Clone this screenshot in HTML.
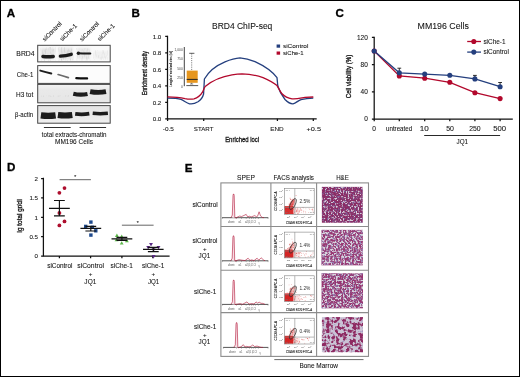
<!DOCTYPE html>
<html><head><meta charset="utf-8"><style>
html,body{margin:0;padding:0;background:#fff;}
svg{display:block;will-change:transform;}
text{font-family:"Liberation Sans",sans-serif;stroke:#151515;stroke-width:0.08px;}
.b{font-weight:bold;stroke:#000;stroke-width:0.3px;fill:#000;}
.n text, text.n{stroke:none;}
text.ax{stroke-width:0.32px;}
</style></head><body>
<svg width="520" height="377" viewBox="0 0 520 377" fill="#151515">
<defs>
<filter id="bl1" x="-20%" y="-50%" width="140%" height="200%"><feGaussianBlur stdDeviation="0.7"/></filter>
<filter id="bl2" x="-20%" y="-50%" width="140%" height="200%"><feGaussianBlur stdDeviation="1.1"/></filter>
<filter id="bl05" x="-20%" y="-20%" width="140%" height="140%"><feGaussianBlur stdDeviation="0.5"/></filter>
<filter id="haze" x="0" y="0" width="100%" height="100%" color-interpolation-filters="sRGB"><feTurbulence type="fractalNoise" baseFrequency="0.7 0.18" numOctaves="2" seed="9" result="n"/><feColorMatrix in="n" type="matrix" values="0 0 0 0 0  0 0 0 0 0  0 0 0 0 0  1 0 0 0 0" result="a"/><feComponentTransfer in="a" result="m"><feFuncA type="linear" slope="2.2" intercept="-1.05"/></feComponentTransfer><feComposite in="SourceGraphic" in2="m" operator="in" result="c"/><feGaussianBlur in="c" stdDeviation="0.5"/></filter>
<filter id="blh" x="0" y="0" width="100%" height="100%"><feGaussianBlur stdDeviation="0.55"/></filter>
<filter id="he1l" x="0" y="0" width="100%" height="100%" color-interpolation-filters="sRGB"><feTurbulence type="fractalNoise" baseFrequency="0.6" numOctaves="2" seed="3" result="n"/><feColorMatrix in="n" type="matrix" values="0 0 0 0 0  0 0 0 0 0  0 0 0 0 0  1 0 0 0 0" result="a"/><feComponentTransfer in="a" result="m"><feFuncA type="linear" slope="6" intercept="-3.174"/></feComponentTransfer><feComposite in="SourceGraphic" in2="m" operator="in"/></filter>
<filter id="he1p" x="0" y="0" width="100%" height="100%" color-interpolation-filters="sRGB"><feTurbulence type="fractalNoise" baseFrequency="0.55" numOctaves="2" seed="43" result="n"/><feColorMatrix in="n" type="matrix" values="0 0 0 0 0  0 0 0 0 0  0 0 0 0 0  1 0 0 0 0" result="a"/><feComponentTransfer in="a" result="m"><feFuncA type="linear" slope="3.5" intercept="-1.596"/></feComponentTransfer><feComposite in="SourceGraphic" in2="m" operator="in"/></filter>
<filter id="he2l" x="0" y="0" width="100%" height="100%" color-interpolation-filters="sRGB"><feTurbulence type="fractalNoise" baseFrequency="0.55" numOctaves="2" seed="5" result="n"/><feColorMatrix in="n" type="matrix" values="0 0 0 0 0  0 0 0 0 0  0 0 0 0 0  1 0 0 0 0" result="a"/><feComponentTransfer in="a" result="m"><feFuncA type="linear" slope="6" intercept="-2.844"/></feComponentTransfer><feComposite in="SourceGraphic" in2="m" operator="in"/></filter>
<filter id="he2p" x="0" y="0" width="100%" height="100%" color-interpolation-filters="sRGB"><feTurbulence type="fractalNoise" baseFrequency="0.55" numOctaves="2" seed="45" result="n"/><feColorMatrix in="n" type="matrix" values="0 0 0 0 0  0 0 0 0 0  0 0 0 0 0  1 0 0 0 0" result="a"/><feComponentTransfer in="a" result="m"><feFuncA type="linear" slope="3.5" intercept="-1.572"/></feComponentTransfer><feComposite in="SourceGraphic" in2="m" operator="in"/></filter>
<filter id="he3l" x="0" y="0" width="100%" height="100%" color-interpolation-filters="sRGB"><feTurbulence type="fractalNoise" baseFrequency="0.55" numOctaves="2" seed="11" result="n"/><feColorMatrix in="n" type="matrix" values="0 0 0 0 0  0 0 0 0 0  0 0 0 0 0  1 0 0 0 0" result="a"/><feComponentTransfer in="a" result="m"><feFuncA type="linear" slope="6" intercept="-2.908"/></feComponentTransfer><feComposite in="SourceGraphic" in2="m" operator="in"/></filter>
<filter id="he3p" x="0" y="0" width="100%" height="100%" color-interpolation-filters="sRGB"><feTurbulence type="fractalNoise" baseFrequency="0.55" numOctaves="2" seed="51" result="n"/><feColorMatrix in="n" type="matrix" values="0 0 0 0 0  0 0 0 0 0  0 0 0 0 0  1 0 0 0 0" result="a"/><feComponentTransfer in="a" result="m"><feFuncA type="linear" slope="3.5" intercept="-1.596"/></feComponentTransfer><feComposite in="SourceGraphic" in2="m" operator="in"/></filter>
<filter id="he4l" x="0" y="0" width="100%" height="100%" color-interpolation-filters="sRGB"><feTurbulence type="fractalNoise" baseFrequency="0.3" numOctaves="2" seed="17" result="n"/><feColorMatrix in="n" type="matrix" values="0 0 0 0 0  0 0 0 0 0  0 0 0 0 0  1 0 0 0 0" result="a"/><feComponentTransfer in="a" result="m"><feFuncA type="linear" slope="6" intercept="-2.656"/></feComponentTransfer><feComposite in="SourceGraphic" in2="m" operator="in"/></filter>
<filter id="he4p" x="0" y="0" width="100%" height="100%" color-interpolation-filters="sRGB"><feTurbulence type="fractalNoise" baseFrequency="0.42" numOctaves="2" seed="57" result="n"/><feColorMatrix in="n" type="matrix" values="0 0 0 0 0  0 0 0 0 0  0 0 0 0 0  1 0 0 0 0" result="a"/><feComponentTransfer in="a" result="m"><feFuncA type="linear" slope="3.5" intercept="-2.051"/></feComponentTransfer><feComposite in="SourceGraphic" in2="m" operator="in"/></filter>
</defs>
<rect x="0" y="0" width="520" height="377" fill="#fff"/>
<g id="pA">
<text x="6.80" y="16.60" font-size="11.6" class="b" >A</text>
<g>
<text x="44.7" y="41.8" font-size="6.3" transform="rotate(-45 44.7 41.8)">siControl</text>
<text x="62.2" y="41.6" font-size="6.3" transform="rotate(-45 62.2 41.6)">siChe-1</text>
<text x="82" y="41.8" font-size="6.3" transform="rotate(-45 82 41.8)">siControl</text>
<text x="99.8" y="41.6" font-size="6.3" transform="rotate(-45 99.8 41.6)">siChe-1</text>
</g>
<text x="16.39" y="55.90" font-size="6.6" textLength="18.21" lengthAdjust="spacingAndGlyphs" id="c1" >BRD4</text>
<text x="16.81" y="76.50" font-size="6.4" textLength="16.48" lengthAdjust="spacingAndGlyphs" id="c2" >Che-1</text>
<text x="16.00" y="97.20" font-size="6.5" textLength="17.24" lengthAdjust="spacingAndGlyphs" id="c3" >H3 tot</text>
<text x="14.84" y="117.00" font-size="6.5" textLength="18.40" lengthAdjust="spacingAndGlyphs" id="c4" >β-actin</text>
<defs>
<linearGradient id="gH3" x1="0" y1="0" x2="0" y2="1"><stop offset="0" stop-color="#f4f4f4"/><stop offset="0.3" stop-color="#e9e9e9"/><stop offset="1" stop-color="#e6e6e6"/></linearGradient>
<linearGradient id="gAc" x1="0" y1="0" x2="0" y2="1"><stop offset="0" stop-color="#e4e4e4"/><stop offset="0.6" stop-color="#e9e9e9"/><stop offset="1" stop-color="#f0f0f0"/></linearGradient>
</defs>
<rect x="37.7" y="45.3" width="72.5" height="16.6" fill="#fafafa"/>
<rect x="37.7" y="65.6" width="72.5" height="17.8" fill="#fcfcfc"/>
<rect x="37.7" y="84.4" width="72.5" height="18.4" fill="url(#gH3)"/>
<rect x="37.7" y="105.6" width="72.5" height="17.6" fill="url(#gAc)"/>
<g filter="url(#bl2)" fill="#999">
<rect x="41" y="48" width="14" height="11" opacity="0.22"/>
<rect x="58.5" y="47.5" width="14.5" height="12" opacity="0.2"/>
<rect x="77" y="48" width="13" height="11" opacity="0.18"/>
<rect x="94" y="51" width="14" height="8" opacity="0.1"/>
</g>
<g filter="url(#haze)" fill="#777">
<rect x="40" y="47" width="16" height="14" opacity="0.22"/>
<rect x="58" y="47" width="16" height="14" opacity="0.22"/>
<rect x="76" y="48" width="15" height="13" opacity="0.2"/>
<rect x="93" y="50" width="15" height="10" opacity="0.16"/>
<rect x="59" y="58.5" width="14" height="1.6" opacity="0.35"/>
<rect x="41" y="95.2" width="13" height="1.8" opacity="0.2"/>
<rect x="57" y="95" width="13" height="1.8" opacity="0.2"/>
</g>
<g filter="url(#bl1)">
<path d="M42.9 56.5 Q48.1 56.9 53.3 56.5" stroke="#1c1c1c" stroke-width="3.4" stroke-linecap="round" fill="none" opacity="1"/>
<path d="M60.4 56.2 Q65.9 55.7 71.3 54.3" stroke="#1c1c1c" stroke-width="3.3" stroke-linecap="round" fill="none" opacity="1"/>
<path d="M78.0 53.2 Q84.2 53.6 90.3 53.5" stroke="#1c1c1c" stroke-width="2.0" stroke-linecap="round" fill="none" opacity="1"/>
<ellipse cx="78.4" cy="53.3" rx="1.7" ry="1.7" fill="#1c1c1c"/>
<path d="M40.3 70.6 Q45.8 72.0 51.3 73.5" stroke="#1c1c1c" stroke-width="2.0" stroke-linecap="round" fill="none" opacity="1"/>
<path d="M58.1 74.5 Q63.2 76.0 68.4 77.6" stroke="#6a6a6a" stroke-width="1.7" stroke-linecap="round" fill="none" opacity="1"/>
<path d="M76.3 78.2 Q81.7 78.5 87.1 78.4" stroke="#111" stroke-width="2.2" stroke-linecap="round" fill="none" opacity="1"/>
<path d="M73.3 93.8 Q80.4 95.5 87.5 94.0" stroke="#1c1c1c" stroke-width="4.2" stroke-linecap="butt" fill="none" opacity="1"/>
<path d="M90.1 91.6 Q98.0 93.2 106.0 91.7" stroke="#1c1c1c" stroke-width="4.8" stroke-linecap="butt" fill="none" opacity="1"/>
<path d="M40.9 115.3 Q48.2 116.3 55.6 115.3" stroke="#1c1c1c" stroke-width="6.3" stroke-linecap="butt" fill="none" opacity="1"/>
<path d="M57.9 115.0 Q65.1 116.0 72.3 115.0" stroke="#1c1c1c" stroke-width="6.1" stroke-linecap="butt" fill="none" opacity="1"/>
<path d="M75.2 113.9 Q82.2 114.8 89.3 113.7" stroke="#1c1c1c" stroke-width="3.8" stroke-linecap="butt" fill="none" opacity="1"/>
<path d="M92.7 113.3 Q100.3 114.1 107.9 113.3" stroke="#1c1c1c" stroke-width="3.4" stroke-linecap="butt" fill="none" opacity="1"/>
</g>
<g fill="none" stroke="#454545" stroke-width="1">
<rect x="37.7" y="45.3" width="72.5" height="16.6"/>
<rect x="37.7" y="65.6" width="72.5" height="17.8"/>
<rect x="37.7" y="84.4" width="72.5" height="18.4"/>
<rect x="37.7" y="105.6" width="72.5" height="17.6"/>
</g>
<g stroke="#333" stroke-width="1">
<line x1="43.9" y1="127.5" x2="70.7" y2="127.5"/>
<line x1="79.6" y1="127.5" x2="106.1" y2="127.5"/>
</g>
<text x="41.81" y="136.50" font-size="6.7" textLength="64.78" lengthAdjust="spacingAndGlyphs" id="c5" >total extracts-chromatin</text>
<text x="55.00" y="144.20" font-size="6.7" textLength="38.03" lengthAdjust="spacingAndGlyphs" id="c6" >MM196 Cells</text>
</g>
<g id="pB">
<text x="131.40" y="16.80" font-size="11.6" class="b" >B</text>
<text x="212.00" y="28.50" font-size="8.3" textLength="60.33" lengthAdjust="spacingAndGlyphs" id="c7" >BRD4 ChIP-seq</text>
<g stroke="#111" stroke-width="1.25" fill="none">
<path d="M167.5 35.8 V118.8 H316.7"/>
<path d="M165.2 118.8 H167.5 M165.2 102.3 H167.5 M165.2 85.8 H167.5 M165.2 69.4 H167.5 M165.2 52.9 H167.5 M165.2 36.4 H167.5"/>
<path d="M167.6 118.8 V121.0 M203.7 118.8 V121.0 M277.4 118.8 V121.0 M313.3 118.8 V121.0"/>
</g>
<text x="161.30" y="38.60" font-size="6.2" text-anchor="end" >1.0</text>
<text x="161.30" y="55.08" font-size="6.2" text-anchor="end" >0.8</text>
<text x="161.30" y="71.56" font-size="6.2" text-anchor="end" >0.6</text>
<text x="161.30" y="88.04" font-size="6.2" text-anchor="end" >0.4</text>
<text x="161.30" y="104.52" font-size="6.2" text-anchor="end" >0.2</text>
<text x="161.30" y="121.00" font-size="6.2" text-anchor="end" >0.0</text>
<text x="162.80" y="130.80" font-size="6.2" textLength="11.10" lengthAdjust="spacingAndGlyphs" id="c8" >-0.5</text>
<text x="193.80" y="130.80" font-size="6.2" textLength="19.61" lengthAdjust="spacingAndGlyphs" id="c9" >START</text>
<text x="270.18" y="130.80" font-size="6.2" textLength="13.58" lengthAdjust="spacingAndGlyphs" id="c10" >END</text>
<text x="306.47" y="130.80" font-size="6.2" textLength="14.55" lengthAdjust="spacingAndGlyphs" id="c11" >+0.5</text>
<text x="225.18" y="142.30" font-size="7.7" textLength="33.91" lengthAdjust="spacingAndGlyphs" id="c12" class="ax" >Enriched loci</text>
<g transform="translate(144.30 73.20) rotate(-90)"><text x="-22.10" y="2.44" font-size="7.4" textLength="44.20" lengthAdjust="spacingAndGlyphs" class="ax">Enrichment density</text></g>
<rect x="276.6" y="44.5" width="3.5" height="3.2" fill="#243f7e"/>
<rect x="276.6" y="51.5" width="3.5" height="3.2" fill="#b2082c"/>
<text x="282.96" y="48.10" font-size="6.0" textLength="25.44" lengthAdjust="spacingAndGlyphs" id="c13" >siControl</text>
<text x="283.00" y="55.10" font-size="6.0" textLength="20.69" lengthAdjust="spacingAndGlyphs" id="c14" >siChe-1</text>
<path d="M184.3 47 V86.2" stroke="#111" stroke-width="0.8"/>
<g class="n" fill="#444">
<text x="182.80" y="50.70" font-size="3.3" text-anchor="end" >1,000</text>
<text x="182.80" y="60.20" font-size="3.3" text-anchor="end" >750</text>
<text x="182.80" y="69.60" font-size="3.3" text-anchor="end" >500</text>
<text x="182.80" y="79.10" font-size="3.3" text-anchor="end" >250</text>
<text x="182.80" y="88.10" font-size="3.3" text-anchor="end" >0</text>
</g>
<g transform="translate(171.20 68.70) rotate(-90)"><text x="-18.00" y="1.25" font-size="3.8" textLength="36.00" lengthAdjust="spacingAndGlyphs" fill="#222">Length of enriched sites (kb)</text></g>
<rect x="186.7" y="70.6" width="11" height="12.2" fill="#e6961e"/>
<path d="M186.7 79.4 H197.7" stroke="#222" stroke-width="1"/>
<path d="M191.7 53.5 V70.6" stroke="#333" stroke-width="0.7" stroke-dasharray="1 1.2"/>
<path d="M189.2 53.3 H194.4" stroke="#333" stroke-width="0.8"/>
<path d="M190 84 H193.2 M191.6 82.8 V84" stroke="#555" stroke-width="0.7"/>
<path d="M186.3 85.6 H198.2" stroke="#444" stroke-width="0.9"/>
<path fill="none" stroke="#243f7e" stroke-width="1.3" stroke-linejoin="round" d="M167.5 98.1 C173 98.1 178 98.4 181 99.4 C184 100.6 186.5 103 189.5 103.8 C192 104.3 195 103.6 198 101.8 C200.5 100.2 202.5 98 203.6 94 L204.4 79 C208 72.5 215 66 225 61.8 C231 59.4 236 58.2 240 57.9 C244 58.2 249 59.2 255 61.6 C265 66.2 272 71 277 77.6 L277.8 86 C279 90 281.5 95 285 99.5 C288 102.6 290.5 103.9 293 103.8 C296 103.2 298 100.6 301 99.6 C305 98.6 309 98.2 313.3 98.1"/>
<path fill="none" stroke="#b2082c" stroke-width="1.3" stroke-linejoin="round" d="M167.5 96.8 C175 96.9 180 97.4 185 98.6 C188 99.2 191 99.4 194 98.8 C198 97.8 200.5 95.5 202.5 92.2 C203.5 90 204 88 205.5 86.2 C212 80.8 222 76.4 232 74.8 C236 74.1 239 73.8 242 73.8 C249 74 256 75.2 263 77.6 C269 80.2 274 83 277 85.6 C278.5 88 279.5 90.5 282 93.8 C285 97 288 98.3 292 98.8 C297 99.2 301 98 305 97.4 C308 97.1 311 97 313.3 97"/>
</g>
<g id="pC">
<text x="335.60" y="16.80" font-size="11.6" class="b" >C</text>
<text x="417.58" y="28.50" font-size="8.5" textLength="51.33" lengthAdjust="spacingAndGlyphs" id="c15" >MM196 Cells</text>
<g stroke="#111" stroke-width="1.25" fill="none">
<path d="M374.2 36.8 V119.0 H512.8"/>
<path d="M371.9 119.0 H374.2 M371.9 91.8 H374.2 M371.9 64.6 H374.2 M371.9 37.4 H374.2"/>
<path d="M374.2 119.0 V121.2 M399.3 119.0 V121.2 M424.7 119.0 V121.2 M449.8 119.0 V121.2 M474.9 119.0 V121.2 M500.1 119.0 V121.2"/>
</g>
<text x="367.80" y="39.70" font-size="6.5" text-anchor="end" >120</text>
<text x="367.80" y="66.90" font-size="6.5" text-anchor="end" >80</text>
<text x="367.80" y="94.10" font-size="6.5" text-anchor="end" >40</text>
<text x="367.80" y="121.30" font-size="6.5" text-anchor="end" >0</text>
<text x="374.20" y="130.80" font-size="6.6" text-anchor="middle" >0</text>
<text x="386.00" y="130.80" font-size="6.6" textLength="26.18" lengthAdjust="spacingAndGlyphs" id="c16" >untreated</text>
<text x="419.77" y="130.80" font-size="6.6" textLength="9.06" lengthAdjust="spacingAndGlyphs" id="c17" >10</text>
<text x="446.21" y="130.80" font-size="6.6" textLength="7.76" lengthAdjust="spacingAndGlyphs" id="c18" >50</text>
<text x="469.20" y="130.80" font-size="6.6" textLength="11.52" lengthAdjust="spacingAndGlyphs" id="c19" >250</text>
<text x="493.26" y="130.80" font-size="6.6" textLength="12.89" lengthAdjust="spacingAndGlyphs" id="c20" >500</text>
<path d="M424.2 135.5 H500.1" stroke="#111" stroke-width="0.9"/>
<text x="462.30" y="144.40" font-size="6.3" text-anchor="middle" >JQ1</text>
<g transform="translate(348.70 76.50) rotate(-90)"><text x="-21.75" y="2.51" font-size="7.6" textLength="43.50" lengthAdjust="spacingAndGlyphs" class="ax">Cell viability (%)</text></g>
<g stroke="#1a1a1a" stroke-width="0.9"><path d="M399.3 68.2 V72.3 M397.4 68.2 H401.2"/><path d="M474.9 75.4 V78.5 M473.0 75.4 H476.8"/><path d="M500.1 82.5 V86.3 M498.2 82.5 H502.0"/></g>
<polyline points="374.2,51.0 399.3,75.9 424.7,78.2 449.8,82.3 474.9,92.7 500.1,98.6" fill="none" stroke="#b2082c" stroke-width="1.3"/>
<polyline points="374.2,51.0 399.3,72.8 424.7,74.1 449.8,75.3 474.9,78.9 500.1,86.7" fill="none" stroke="#243f7e" stroke-width="1.3"/>
<circle cx="374.2" cy="51.0" r="2.55" fill="#b2082c"/>
<circle cx="399.3" cy="75.9" r="2.55" fill="#b2082c"/>
<circle cx="424.7" cy="78.2" r="2.55" fill="#b2082c"/>
<circle cx="449.8" cy="82.3" r="2.55" fill="#b2082c"/>
<circle cx="474.9" cy="92.7" r="2.55" fill="#b2082c"/>
<circle cx="500.1" cy="98.6" r="2.55" fill="#b2082c"/>
<circle cx="374.2" cy="51.0" r="2.55" fill="#243f7e"/>
<circle cx="399.3" cy="72.8" r="2.55" fill="#243f7e"/>
<circle cx="424.7" cy="74.1" r="2.55" fill="#243f7e"/>
<circle cx="449.8" cy="75.3" r="2.55" fill="#243f7e"/>
<circle cx="474.9" cy="78.9" r="2.55" fill="#243f7e"/>
<circle cx="500.1" cy="86.7" r="2.55" fill="#243f7e"/>
<path d="M467.2 41.5 H481" stroke="#b2082c" stroke-width="1.3"/><circle cx="473.8" cy="41.5" r="2.55" fill="#b2082c"/>
<path d="M467.2 52.1 H481" stroke="#243f7e" stroke-width="1.3"/><circle cx="473.8" cy="52.1" r="2.55" fill="#243f7e"/>
<text x="483.41" y="43.80" font-size="6.5" textLength="22.19" lengthAdjust="spacingAndGlyphs" id="c21" >siChe-1</text>
<text x="483.41" y="54.40" font-size="6.5" textLength="25.45" lengthAdjust="spacingAndGlyphs" id="c22" >siControl</text>
</g>
<g id="pD">
<text x="7.00" y="171.10" font-size="11.6" class="b" >D</text>
<g stroke="#111" stroke-width="1.25" fill="none">
<path d="M43.4 177.8 V256.1 H169.6"/>
<path d="M41.1 256.1 H43.4 M41.1 236.7 H43.4 M41.1 217.3 H43.4 M41.1 197.9 H43.4 M41.1 178.5 H43.4"/>
<path d="M59.4 256.1 V258.3 M90.6 256.1 V258.3 M121.9 256.1 V258.3 M152.8 256.1 V258.3"/>
</g>
<text x="38.00" y="180.70" font-size="6.2" text-anchor="end" >2</text>
<text x="38.00" y="200.10" font-size="6.2" text-anchor="end" >1.5</text>
<text x="38.00" y="219.50" font-size="6.2" text-anchor="end" >1</text>
<text x="38.00" y="238.90" font-size="6.2" text-anchor="end" >0.5</text>
<text x="38.00" y="258.30" font-size="6.2" text-anchor="end" >0</text>
<g transform="translate(20.00 216.10) rotate(-90)"><text x="-16.65" y="2.38" font-size="7.2" textLength="33.30" lengthAdjust="spacingAndGlyphs" class="ax">Ig total gr/dl</text></g>
<text x="47.20" y="268.40" font-size="6.4" textLength="25.22" lengthAdjust="spacingAndGlyphs" id="c23" >siControl</text>
<text x="77.35" y="268.40" font-size="6.4" textLength="26.69" lengthAdjust="spacingAndGlyphs" id="c24" >siControl</text>
<text x="90.60" y="276.00" font-size="6.2" text-anchor="middle" >+</text>
<text x="84.38" y="283.60" font-size="6.4" textLength="11.97" lengthAdjust="spacingAndGlyphs" id="c25" >JQ1</text>
<text x="110.59" y="268.40" font-size="6.4" textLength="22.24" lengthAdjust="spacingAndGlyphs" id="c26" >siChe-1</text>
<text x="142.00" y="268.40" font-size="6.4" textLength="22.24" lengthAdjust="spacingAndGlyphs" id="c27" >siChe-1</text>
<text x="153.20" y="276.00" font-size="6.2" text-anchor="middle" >+</text>
<text x="148.00" y="283.60" font-size="6.4" textLength="11.31" lengthAdjust="spacingAndGlyphs" id="c28" >JQ1</text>
<g stroke="#555" stroke-width="0.9"><path d="M59.6 179.7 H90.9"/><path d="M121.9 225.2 H153.6"/></g>
<text x="75.30" y="178.60" font-size="5" text-anchor="middle" >*</text>
<text x="137.80" y="224.60" font-size="5" text-anchor="middle" >*</text>
<circle cx="64.5" cy="188.1" r="1.9" fill="#ae0f2e"/>
<circle cx="59.4" cy="192.8" r="1.9" fill="#ae0f2e"/>
<circle cx="59.4" cy="213" r="1.9" fill="#ae0f2e"/>
<circle cx="64.5" cy="221.4" r="1.9" fill="#ae0f2e"/>
<circle cx="59.4" cy="225.4" r="1.9" fill="#ae0f2e"/>
<rect x="89.20" y="220.40" width="3.4" height="3.4" fill="#1e4a8e"/>
<rect x="84.00" y="224.70" width="3.4" height="3.4" fill="#1e4a8e"/>
<rect x="90.60" y="225.60" width="3.4" height="3.4" fill="#1e4a8e"/>
<rect x="94.10" y="229.10" width="3.4" height="3.4" fill="#1e4a8e"/>
<rect x="89.20" y="233.40" width="3.4" height="3.4" fill="#1e4a8e"/>
<path d="M116.90 233.56 L118.85 236.96 L114.95 236.96Z" fill="#5cb84a"/>
<path d="M121.70 234.56 L123.65 237.96 L119.75 237.96Z" fill="#5cb84a"/>
<path d="M116.50 237.96 L118.45 241.36 L114.55 241.36Z" fill="#5cb84a"/>
<path d="M121.70 241.16 L123.65 244.56 L119.75 244.56Z" fill="#5cb84a"/>
<path d="M126.90 238.96 L128.85 242.36 L124.95 242.36Z" fill="#5cb84a"/>
<path d="M151.00 246.44 L152.95 243.04 L149.05 243.04Z" fill="#5b2a86"/>
<path d="M148.20 249.44 L150.15 246.04 L146.25 246.04Z" fill="#5b2a86"/>
<path d="M158.50 249.44 L160.45 246.04 L156.55 246.04Z" fill="#5b2a86"/>
<path d="M153.60 251.64 L155.55 248.24 L151.65 248.24Z" fill="#5b2a86"/>
<path d="M153.60 258.44 L155.55 255.04 L151.65 255.04Z" fill="#5b2a86"/>
<g stroke="#111" stroke-width="1.15" fill="none">
<path d="M49.0 208.3 H69.8 M54.0 200.5 H64.8 M54.0 215.9 H64.8 M59.4 200.5 V215.9" />
<path d="M80.4 228.3 H101.2 M85.4 226.3 H96.2 M85.4 231.0 H96.2 M90.8 226.3 V231.0" />
<path d="M111.5 238.8 H132.3 M116.5 237.4 H127.3 M116.5 240.4 H127.3 M121.9 237.4 V240.4" />
<path d="M143.0 249.4 H163.6 M147.9 247.3 H158.7 M147.9 251.6 H158.7 M153.3 247.3 V251.6" />
</g>
</g>
<g id="pE">
<text x="184.80" y="171.50" font-size="11.6" class="b" >E</text>
<text x="236.99" y="179.50" font-size="6.6" textLength="17.90" lengthAdjust="spacingAndGlyphs" id="c29" >SPEP</text>
<text x="273.61" y="179.50" font-size="6.6" textLength="40.30" lengthAdjust="spacingAndGlyphs" id="c30" >FACS analysis</text>
<text x="336.19" y="179.50" font-size="6.6" textLength="12.62" lengthAdjust="spacingAndGlyphs" id="c31" >H&amp;E</text>
<text x="192.40" y="207.00" font-size="6.4" textLength="25.32" lengthAdjust="spacingAndGlyphs" id="c32" >siControl</text>
<text x="192.40" y="243.00" font-size="6.4" textLength="25.02" lengthAdjust="spacingAndGlyphs" id="c33" >siControl</text>
<text x="204.90" y="250.70" font-size="6.2" text-anchor="middle" >+</text>
<text x="198.61" y="258.30" font-size="6.4" textLength="11.63" lengthAdjust="spacingAndGlyphs" id="c34" >JQ1</text>
<text x="194.00" y="293.60" font-size="6.4" textLength="22.24" lengthAdjust="spacingAndGlyphs" id="c35" >siChe-1</text>
<text x="194.00" y="329.20" font-size="6.4" textLength="22.24" lengthAdjust="spacingAndGlyphs" id="c36" >siChe-1</text>
<text x="204.90" y="336.90" font-size="6.2" text-anchor="middle" >+</text>
<text x="198.61" y="344.40" font-size="6.4" textLength="11.63" lengthAdjust="spacingAndGlyphs" id="c37" >JQ1</text>
<path d="M222.0 217.7 H268.3" stroke="#555" stroke-width="1.0"/>
<path d="M222.3 217.7 V219.0 M236.5 217.7 V219.0 M241.5 217.7 V219.0 M246.2 217.7 V219.0 M249.5 217.7 V219.0 M251.5 217.7 V219.0 M253.3 217.7 V219.0 M255.4 217.7 V219.0 M258.4 217.7 V219.0 M268.0 217.7 V219.0" stroke="#777" stroke-width="0.5"/>
<path d="M232.3 217.7 L233.0 195.5 L233.4 194.0 L233.8 194.0 L234.2 195.5 L234.8 217.7 Z" fill="#f8dce4"/>
<path d="M230.4 217.7 L231.4 216.9 L232.3 215.1 L233.0 195.5 L233.4 194.0 L233.8 194.0 L234.2 195.5 L234.8 217.1 L235.6 218.2 L236.1 217.7 L239.6 216.1 L241.7 216.5 L246.2 214.4 L247.7 216.9 L249.2 216.2 L251.2 216.9 L254.8 215.6 L256.3 216.7 L257.6 216.2 L259.1 211.8 L260.5 215.9 L262.3 217.4 L264.0 217.7 " fill="none" stroke="#b01436" stroke-width="0.6" stroke-linejoin="miter"/>
<g class="n" font-size="2.6" fill="#555"><text x="227.9" y="223.2" textLength="6.7" lengthAdjust="spacingAndGlyphs">albumin</text><text x="238.4" y="223.2">α1</text><text x="245.0" y="223.2">α2</text><text x="248.2" y="223.2" textLength="7.6" lengthAdjust="spacingAndGlyphs">β1 β2 C3</text><text x="258.5" y="223.9">γ</text></g>
<path d="M222.0 260.8 H268.3" stroke="#555" stroke-width="1.0"/>
<path d="M222.3 260.8 V262.1 M236.5 260.8 V262.1 M241.5 260.8 V262.1 M246.2 260.8 V262.1 M249.5 260.8 V262.1 M251.5 260.8 V262.1 M253.3 260.8 V262.1 M255.4 260.8 V262.1 M258.4 260.8 V262.1 M268.0 260.8 V262.1" stroke="#777" stroke-width="0.5"/>
<path d="M232.2 260.8 L232.9 237.3 L233.3 235.8 L233.7 235.8 L234.1 237.3 L234.7 260.8 Z" fill="#f8dce4"/>
<path d="M230.3 260.8 L231.3 260.0 L232.2 258.2 L232.9 237.3 L233.3 235.8 L233.7 235.8 L234.1 237.3 L234.7 260.2 L235.5 261.3 L235.5 260.8 L239.0 259.7 L242.0 260.2 L245.0 260.6 L248.1 258.2 L250.0 260.4 L251.8 259.9 L254.0 260.6 L257.1 258.2 L258.8 260.2 L261.1 257.8 L263.5 259.9 L265.0 260.8 " fill="none" stroke="#b01436" stroke-width="0.6" stroke-linejoin="miter"/>
<g class="n" font-size="2.6" fill="#555"><text x="227.9" y="265.8" textLength="6.7" lengthAdjust="spacingAndGlyphs">albumin</text><text x="238.4" y="265.8">α1</text><text x="245.0" y="265.8">α2</text><text x="248.2" y="265.8" textLength="7.6" lengthAdjust="spacingAndGlyphs">β1 β2 C3</text><text x="258.5" y="266.5">γ</text></g>
<path d="M222.0 304.4 H268.3" stroke="#555" stroke-width="1.0"/>
<path d="M222.3 304.4 V305.7 M236.5 304.4 V305.7 M241.5 304.4 V305.7 M246.2 304.4 V305.7 M249.5 304.4 V305.7 M251.5 304.4 V305.7 M253.3 304.4 V305.7 M255.4 304.4 V305.7 M258.4 304.4 V305.7 M268.0 304.4 V305.7" stroke="#777" stroke-width="0.5"/>
<path d="M232.4 304.4 L233.1 281.5 L233.5 280.0 L233.9 280.0 L234.3 281.5 L234.9 304.4 Z" fill="#f8dce4"/>
<path d="M230.5 304.4 L231.5 303.6 L232.4 301.8 L233.1 281.5 L233.5 280.0 L233.9 280.0 L234.3 281.5 L234.9 303.8 L235.7 304.9 L235.7 304.4 L238.0 304.0 L240.1 303.6 L242.5 304.3 L247.0 301.9 L249.0 304.1 L252.0 303.6 L254.0 304.1 L256.0 301.9 L257.6 303.1 L259.2 302.2 L261.0 303.3 L262.9 303.4 L265.0 304.4 " fill="none" stroke="#b01436" stroke-width="0.6" stroke-linejoin="miter"/>
<g class="n" font-size="2.6" fill="#555"><text x="227.9" y="310.1" textLength="6.7" lengthAdjust="spacingAndGlyphs">albumin</text><text x="238.4" y="310.1">α1</text><text x="245.0" y="310.1">α2</text><text x="248.2" y="310.1" textLength="7.6" lengthAdjust="spacingAndGlyphs">β1 β2 C3</text><text x="258.5" y="310.8">γ</text></g>
<path d="M223.1 347.4 H268.3" stroke="#555" stroke-width="1.0"/>
<path d="M223.4 347.4 V348.7 M236.5 347.4 V348.7 M241.5 347.4 V348.7 M246.2 347.4 V348.7 M249.5 347.4 V348.7 M251.5 347.4 V348.7 M253.3 347.4 V348.7 M255.4 347.4 V348.7 M258.4 347.4 V348.7 M268.0 347.4 V348.7" stroke="#777" stroke-width="0.5"/>
<path d="M235.3 347.4 L236.0 324.1 L236.4 322.6 L236.8 322.6 L237.2 324.1 L237.8 347.4 Z" fill="#f8dce4"/>
<path d="M233.4 347.4 L234.4 346.6 L235.3 344.8 L236.0 324.1 L236.4 322.6 L236.8 322.6 L237.2 324.1 L237.8 346.8 L238.6 347.9 L239.2 347.4 L241.0 346.8 L243.3 344.7 L245.0 347.0 L246.5 346.4 L249.0 346.9 L251.0 346.3 L252.8 344.9 L254.5 346.6 L257.1 346.1 L259.2 346.8 L261.0 347.3 L263.0 347.4 " fill="none" stroke="#b01436" stroke-width="0.6" stroke-linejoin="miter"/>
<g class="n" font-size="2.6" fill="#555"><text x="229.0" y="353.1" textLength="6.7" lengthAdjust="spacingAndGlyphs">albumin</text><text x="239.5" y="353.1">α1</text><text x="246.1" y="353.1">α2</text><text x="249.3" y="353.1" textLength="7.6" lengthAdjust="spacingAndGlyphs">β1 β2 C3</text><text x="259.6" y="353.8">γ</text></g>
<g><rect x="285.8" y="208.4" width="14.0" height="4.9" fill="#e66" opacity="0.18" filter="url(#bl05)"/>
<rect x="284.6" y="206.1" width="8.8" height="7.9" fill="#d41e1e" opacity="0.9" filter="url(#bl05)"/>
<ellipse cx="291.9" cy="203.7" rx="2.0" ry="5.2" transform="rotate(28 291.9 203.7)" fill="#dd3030" opacity="0.7" filter="url(#bl05)"/>
<rect x="290.2" y="206.9" width="0.7" height="0.7" fill="#d42a2a" opacity="0.59"/>
<rect x="292.5" y="206.8" width="0.7" height="0.7" fill="#d42a2a" opacity="0.58"/>
<rect x="291.3" y="203.9" width="0.7" height="0.7" fill="#d42a2a" opacity="0.35"/>
<rect x="286.0" y="208.1" width="0.7" height="0.7" fill="#d42a2a" opacity="0.65"/>
<rect x="301.4" y="209.9" width="0.7" height="0.7" fill="#d42a2a" opacity="0.84"/>
<rect x="291.1" y="205.0" width="0.7" height="0.7" fill="#d42a2a" opacity="0.38"/>
<rect x="290.7" y="201.4" width="0.7" height="0.7" fill="#d42a2a" opacity="0.40"/>
<rect x="296.3" y="211.1" width="0.7" height="0.7" fill="#d42a2a" opacity="0.50"/>
<rect x="286.6" y="207.9" width="0.7" height="0.7" fill="#d42a2a" opacity="0.67"/>
<rect x="285.2" y="208.7" width="0.7" height="0.7" fill="#d42a2a" opacity="0.62"/>
<rect x="288.1" y="211.6" width="0.7" height="0.7" fill="#d42a2a" opacity="0.43"/>
<rect x="296.1" y="210.3" width="0.7" height="0.7" fill="#d42a2a" opacity="0.78"/>
<rect x="288.9" y="207.3" width="0.7" height="0.7" fill="#d42a2a" opacity="0.53"/>
<rect x="303.3" y="207.5" width="0.7" height="0.7" fill="#d42a2a" opacity="0.57"/>
<rect x="290.3" y="199.0" width="0.7" height="0.7" fill="#d42a2a" opacity="0.62"/>
<rect x="294.1" y="211.8" width="0.7" height="0.7" fill="#d42a2a" opacity="0.63"/>
<rect x="297.2" y="213.4" width="0.7" height="0.7" fill="#d42a2a" opacity="0.56"/>
<rect x="287.9" y="206.8" width="0.7" height="0.7" fill="#d42a2a" opacity="0.69"/>
<rect x="297.3" y="208.5" width="0.7" height="0.7" fill="#d42a2a" opacity="0.51"/>
<rect x="284.9" y="206.6" width="0.7" height="0.7" fill="#d42a2a" opacity="0.55"/>
<rect x="292.5" y="204.1" width="0.7" height="0.7" fill="#d42a2a" opacity="0.72"/>
<rect x="292.0" y="206.4" width="0.7" height="0.7" fill="#d42a2a" opacity="0.78"/>
<rect x="289.6" y="204.6" width="0.7" height="0.7" fill="#d42a2a" opacity="0.79"/>
<rect x="309.4" y="209.2" width="0.7" height="0.7" fill="#d42a2a" opacity="0.53"/>
<rect x="297.4" y="207.5" width="0.7" height="0.7" fill="#d42a2a" opacity="0.40"/>
<rect x="288.7" y="203.8" width="0.7" height="0.7" fill="#d42a2a" opacity="0.62"/>
<rect x="294.3" y="206.5" width="0.7" height="0.7" fill="#d42a2a" opacity="0.50"/>
<rect x="284.7" y="213.5" width="0.7" height="0.7" fill="#d42a2a" opacity="0.68"/>
<rect x="292.1" y="206.8" width="0.7" height="0.7" fill="#d42a2a" opacity="0.79"/>
<rect x="291.4" y="212.9" width="0.7" height="0.7" fill="#d42a2a" opacity="0.74"/>
<rect x="286.9" y="211.1" width="0.7" height="0.7" fill="#d42a2a" opacity="0.33"/>
<rect x="292.6" y="203.9" width="0.7" height="0.7" fill="#d42a2a" opacity="0.49"/>
<rect x="293.2" y="205.1" width="0.7" height="0.7" fill="#d42a2a" opacity="0.36"/>
<rect x="284.7" y="206.6" width="0.7" height="0.7" fill="#d42a2a" opacity="0.78"/>
<rect x="287.5" y="209.0" width="0.7" height="0.7" fill="#d42a2a" opacity="0.50"/>
<rect x="293.2" y="208.9" width="0.7" height="0.7" fill="#d42a2a" opacity="0.56"/>
<rect x="302.3" y="207.0" width="0.7" height="0.7" fill="#d42a2a" opacity="0.36"/>
<rect x="285.5" y="207.6" width="0.7" height="0.7" fill="#d42a2a" opacity="0.31"/>
<rect x="300.0" y="208.3" width="0.7" height="0.7" fill="#d42a2a" opacity="0.60"/>
<rect x="295.7" y="195.2" width="0.7" height="0.7" fill="#d42a2a" opacity="0.77"/>
<rect x="287.7" y="208.3" width="0.7" height="0.7" fill="#d42a2a" opacity="0.50"/>
<rect x="292.3" y="199.7" width="0.7" height="0.7" fill="#d42a2a" opacity="0.73"/>
<rect x="286.5" y="213.7" width="0.7" height="0.7" fill="#d42a2a" opacity="0.77"/>
<rect x="308.1" y="212.1" width="0.7" height="0.7" fill="#d42a2a" opacity="0.42"/>
<rect x="296.9" y="209.0" width="0.7" height="0.7" fill="#d42a2a" opacity="0.32"/>
<rect x="291.7" y="205.7" width="0.7" height="0.7" fill="#d42a2a" opacity="0.68"/>
<rect x="297.8" y="213.4" width="0.7" height="0.7" fill="#d42a2a" opacity="0.84"/>
<rect x="295.5" y="208.8" width="0.7" height="0.7" fill="#d42a2a" opacity="0.42"/>
<rect x="292.8" y="207.4" width="0.7" height="0.7" fill="#d42a2a" opacity="0.80"/>
<rect x="298.7" y="211.6" width="0.7" height="0.7" fill="#d42a2a" opacity="0.74"/>
<rect x="289.7" y="197.8" width="0.7" height="0.7" fill="#d42a2a" opacity="0.73"/>
<rect x="288.6" y="212.2" width="0.7" height="0.7" fill="#d42a2a" opacity="0.48"/>
<rect x="312.4" y="209.9" width="0.7" height="0.7" fill="#d42a2a" opacity="0.52"/>
<rect x="305.5" y="208.5" width="0.7" height="0.7" fill="#d42a2a" opacity="0.37"/>
<rect x="292.2" y="207.9" width="0.7" height="0.7" fill="#d42a2a" opacity="0.38"/>
<rect x="312.7" y="211.6" width="0.7" height="0.7" fill="#d42a2a" opacity="0.49"/>
<rect x="291.4" y="207.4" width="0.7" height="0.7" fill="#d42a2a" opacity="0.31"/>
<rect x="303.4" y="210.8" width="0.7" height="0.7" fill="#d42a2a" opacity="0.81"/>
<rect x="293.4" y="208.0" width="0.7" height="0.7" fill="#d42a2a" opacity="0.44"/>
<rect x="289.3" y="203.6" width="0.7" height="0.7" fill="#d42a2a" opacity="0.44"/>
<rect x="293.6" y="207.4" width="0.7" height="0.7" fill="#d42a2a" opacity="0.80"/>
<rect x="293.2" y="213.1" width="0.7" height="0.7" fill="#d42a2a" opacity="0.53"/>
<rect x="299.3" y="210.8" width="0.7" height="0.7" fill="#d42a2a" opacity="0.59"/>
<rect x="292.7" y="201.6" width="0.7" height="0.7" fill="#d42a2a" opacity="0.30"/>
<rect x="285.9" y="207.7" width="0.7" height="0.7" fill="#d42a2a" opacity="0.56"/>
<rect x="290.1" y="210.2" width="0.7" height="0.7" fill="#d42a2a" opacity="0.61"/>
<rect x="286.5" y="207.2" width="0.7" height="0.7" fill="#d42a2a" opacity="0.61"/>
<rect x="291.4" y="208.5" width="0.7" height="0.7" fill="#d42a2a" opacity="0.58"/>
<rect x="285.3" y="209.7" width="0.7" height="0.7" fill="#d42a2a" opacity="0.64"/>
<rect x="299.7" y="210.2" width="0.7" height="0.7" fill="#d42a2a" opacity="0.68"/>
<rect x="292.1" y="213.4" width="0.7" height="0.7" fill="#d42a2a" opacity="0.68"/>
<rect x="311.6" y="209.1" width="0.7" height="0.7" fill="#d42a2a" opacity="0.61"/>
<rect x="308.7" y="208.3" width="0.7" height="0.7" fill="#d42a2a" opacity="0.37"/>
<rect x="286.0" y="206.9" width="0.7" height="0.7" fill="#d42a2a" opacity="0.43"/>
<rect x="290.3" y="198.8" width="0.7" height="0.7" fill="#d42a2a" opacity="0.79"/>
<rect x="291.4" y="199.1" width="0.7" height="0.7" fill="#d42a2a" opacity="0.38"/>
<rect x="312.3" y="208.8" width="0.7" height="0.7" fill="#d42a2a" opacity="0.82"/>
<rect x="305.4" y="212.6" width="0.7" height="0.7" fill="#d42a2a" opacity="0.39"/>
<rect x="286.0" y="210.2" width="0.7" height="0.7" fill="#d42a2a" opacity="0.49"/>
<rect x="290.7" y="207.8" width="0.7" height="0.7" fill="#d42a2a" opacity="0.31"/>
<rect x="285.5" y="208.9" width="0.7" height="0.7" fill="#d42a2a" opacity="0.64"/>
<rect x="284.8" y="206.9" width="0.7" height="0.7" fill="#d42a2a" opacity="0.84"/>
<rect x="287.5" y="208.4" width="0.7" height="0.7" fill="#d42a2a" opacity="0.32"/>
<rect x="284.9" y="208.4" width="0.7" height="0.7" fill="#d42a2a" opacity="0.37"/>
<rect x="295.3" y="208.3" width="0.7" height="0.7" fill="#d42a2a" opacity="0.38"/>
<rect x="301.2" y="211.9" width="0.7" height="0.7" fill="#d42a2a" opacity="0.35"/>
<rect x="290.0" y="202.2" width="0.7" height="0.7" fill="#d42a2a" opacity="0.34"/>
<rect x="303.0" y="212.5" width="0.7" height="0.7" fill="#d42a2a" opacity="0.35"/>
<rect x="287.2" y="212.9" width="0.7" height="0.7" fill="#d42a2a" opacity="0.55"/>
<rect x="291.1" y="210.5" width="0.7" height="0.7" fill="#d42a2a" opacity="0.81"/>
<rect x="293.7" y="206.1" width="0.7" height="0.7" fill="#d42a2a" opacity="0.43"/>
<rect x="292.3" y="204.2" width="0.7" height="0.7" fill="#d42a2a" opacity="0.41"/>
<rect x="288.3" y="208.5" width="0.7" height="0.7" fill="#d42a2a" opacity="0.58"/>
<rect x="295.2" y="203.1" width="0.7" height="0.7" fill="#d42a2a" opacity="0.44"/>
<rect x="292.3" y="203.0" width="0.7" height="0.7" fill="#d42a2a" opacity="0.40"/>
<rect x="293.1" y="213.3" width="0.7" height="0.7" fill="#d42a2a" opacity="0.36"/>
<rect x="297.4" y="210.6" width="0.7" height="0.7" fill="#d42a2a" opacity="0.76"/>
<rect x="295.0" y="213.7" width="0.7" height="0.7" fill="#d42a2a" opacity="0.49"/>
<rect x="305.0" y="211.5" width="0.7" height="0.7" fill="#d42a2a" opacity="0.52"/>
<rect x="284.7" y="206.8" width="0.7" height="0.7" fill="#d42a2a" opacity="0.37"/>
<rect x="291.9" y="201.1" width="0.7" height="0.7" fill="#d42a2a" opacity="0.39"/>
<rect x="294.2" y="198.3" width="0.7" height="0.7" fill="#d42a2a" opacity="0.67"/>
<rect x="292.1" y="205.9" width="0.7" height="0.7" fill="#d42a2a" opacity="0.55"/>
<rect x="290.5" y="204.2" width="0.7" height="0.7" fill="#d42a2a" opacity="0.83"/>
<rect x="300.6" y="209.0" width="0.7" height="0.7" fill="#d42a2a" opacity="0.83"/>
<rect x="284.7" y="209.2" width="0.7" height="0.7" fill="#d42a2a" opacity="0.56"/>
<rect x="284.7" y="207.9" width="0.7" height="0.7" fill="#d42a2a" opacity="0.58"/>
<rect x="291.9" y="204.7" width="0.7" height="0.7" fill="#d42a2a" opacity="0.52"/>
<rect x="293.7" y="203.8" width="0.7" height="0.7" fill="#d42a2a" opacity="0.43"/>
<rect x="295.8" y="211.3" width="0.7" height="0.7" fill="#d42a2a" opacity="0.69"/>
<rect x="284.3" y="188.5" width="29.9" height="25.8" fill="none" stroke="#777" stroke-width="0.55"/>
<path d="M294.8 188.5 V214.3 M284.3 207.4 H314.2" stroke="#888" stroke-width="0.6"/>
<ellipse cx="292.9" cy="204.1" rx="2.3" ry="6.0" transform="rotate(28 292.9 204.1)" fill="none" stroke="#333" stroke-width="0.7"/>
<text x="304.9" y="203.1" font-size="4.8" text-anchor="middle" class="n" fill="#333">2.5%</text>
<g class="n" font-size="1.9" fill="#777"><text x="285.5" y="191.3">Q1-1</text><text x="309.7" y="191.3">Q1-2</text><text x="309.7" y="213.1">Q1-3</text><text x="285.5" y="213.1">Q1-4</text></g>
<g class="n" font-size="2.4" fill="#444">
<text x="279.3" y="191.5">10<tspan font-size="1.5" dy="-0.8">5</tspan></text>
<text x="279.3" y="198.2">10<tspan font-size="1.5" dy="-0.8">4</tspan></text>
<text x="279.3" y="204.8">10<tspan font-size="1.5" dy="-0.8">3</tspan></text>
<text x="279.3" y="211.0">10<tspan font-size="1.5" dy="-0.8">2</tspan></text>
<text x="286.7" y="217.8">10<tspan font-size="1.5" dy="-0.8">2</tspan></text>
<text x="294.0" y="217.8">10<tspan font-size="1.5" dy="-0.8">3</tspan></text>
<text x="301.2" y="217.8">10<tspan font-size="1.5" dy="-0.8">4</tspan></text>
<text x="307.9" y="217.8">10<tspan font-size="1.5" dy="-0.8">5</tspan></text>
</g>
<text x="0" y="0" font-size="3.5" text-anchor="middle" transform="translate(277.3 201.1) rotate(-90)" style="stroke-width:0.1px" fill="#222" textLength="19.5" lengthAdjust="spacingAndGlyphs">CD138 APC-A</text>
<text x="286" y="223.7" font-size="3.7" style="stroke-width:0.12px" fill="#222" textLength="26" lengthAdjust="spacingAndGlyphs">CD45R B220 FITC-A</text></g>
<g><rect x="285.8" y="252.0" width="14.0" height="4.9" fill="#e66" opacity="0.18" filter="url(#bl05)"/>
<rect x="284.6" y="249.7" width="8.8" height="7.9" fill="#d41e1e" opacity="0.95" filter="url(#bl05)"/>
<ellipse cx="291.9" cy="247.3" rx="2.0" ry="5.2" transform="rotate(28 291.9 247.3)" fill="#dd3030" opacity="0.32" filter="url(#bl05)"/>
<rect x="296.2" y="253.1" width="0.7" height="0.7" fill="#d42a2a" opacity="0.84"/>
<rect x="291.4" y="246.3" width="0.7" height="0.7" fill="#d42a2a" opacity="0.32"/>
<rect x="310.2" y="255.0" width="0.7" height="0.7" fill="#d42a2a" opacity="0.70"/>
<rect x="289.2" y="254.4" width="0.7" height="0.7" fill="#d42a2a" opacity="0.58"/>
<rect x="307.8" y="256.3" width="0.7" height="0.7" fill="#d42a2a" opacity="0.62"/>
<rect x="304.4" y="255.4" width="0.7" height="0.7" fill="#d42a2a" opacity="0.43"/>
<rect x="289.2" y="248.9" width="0.7" height="0.7" fill="#d42a2a" opacity="0.36"/>
<rect x="300.9" y="255.0" width="0.7" height="0.7" fill="#d42a2a" opacity="0.64"/>
<rect x="289.2" y="253.6" width="0.7" height="0.7" fill="#d42a2a" opacity="0.30"/>
<rect x="284.7" y="254.0" width="0.7" height="0.7" fill="#d42a2a" opacity="0.66"/>
<rect x="289.6" y="246.8" width="0.7" height="0.7" fill="#d42a2a" opacity="0.34"/>
<rect x="290.5" y="246.7" width="0.7" height="0.7" fill="#d42a2a" opacity="0.71"/>
<rect x="299.1" y="253.4" width="0.7" height="0.7" fill="#d42a2a" opacity="0.56"/>
<rect x="289.0" y="255.7" width="0.7" height="0.7" fill="#d42a2a" opacity="0.64"/>
<rect x="287.8" y="251.9" width="0.7" height="0.7" fill="#d42a2a" opacity="0.71"/>
<rect x="286.1" y="254.2" width="0.7" height="0.7" fill="#d42a2a" opacity="0.31"/>
<rect x="291.6" y="251.4" width="0.7" height="0.7" fill="#d42a2a" opacity="0.68"/>
<rect x="286.4" y="253.4" width="0.7" height="0.7" fill="#d42a2a" opacity="0.56"/>
<rect x="294.3" y="248.6" width="0.7" height="0.7" fill="#d42a2a" opacity="0.84"/>
<rect x="285.8" y="253.9" width="0.7" height="0.7" fill="#d42a2a" opacity="0.75"/>
<rect x="297.8" y="252.7" width="0.7" height="0.7" fill="#d42a2a" opacity="0.42"/>
<rect x="291.2" y="254.7" width="0.7" height="0.7" fill="#d42a2a" opacity="0.38"/>
<rect x="287.2" y="257.1" width="0.7" height="0.7" fill="#d42a2a" opacity="0.37"/>
<rect x="299.5" y="256.7" width="0.7" height="0.7" fill="#d42a2a" opacity="0.69"/>
<rect x="293.8" y="244.9" width="0.7" height="0.7" fill="#d42a2a" opacity="0.31"/>
<rect x="289.8" y="247.2" width="0.7" height="0.7" fill="#d42a2a" opacity="0.47"/>
<rect x="291.0" y="249.2" width="0.7" height="0.7" fill="#d42a2a" opacity="0.76"/>
<rect x="292.0" y="241.3" width="0.7" height="0.7" fill="#d42a2a" opacity="0.37"/>
<rect x="305.2" y="256.8" width="0.7" height="0.7" fill="#d42a2a" opacity="0.46"/>
<rect x="304.4" y="254.4" width="0.7" height="0.7" fill="#d42a2a" opacity="0.50"/>
<rect x="300.3" y="252.0" width="0.7" height="0.7" fill="#d42a2a" opacity="0.33"/>
<rect x="292.8" y="244.9" width="0.7" height="0.7" fill="#d42a2a" opacity="0.81"/>
<rect x="291.8" y="250.6" width="0.7" height="0.7" fill="#d42a2a" opacity="0.40"/>
<rect x="298.3" y="256.0" width="0.7" height="0.7" fill="#d42a2a" opacity="0.65"/>
<rect x="311.5" y="254.5" width="0.7" height="0.7" fill="#d42a2a" opacity="0.70"/>
<rect x="290.9" y="246.6" width="0.7" height="0.7" fill="#d42a2a" opacity="0.71"/>
<rect x="291.9" y="252.1" width="0.7" height="0.7" fill="#d42a2a" opacity="0.33"/>
<rect x="288.9" y="254.0" width="0.7" height="0.7" fill="#d42a2a" opacity="0.49"/>
<rect x="291.6" y="238.8" width="0.7" height="0.7" fill="#d42a2a" opacity="0.44"/>
<rect x="287.1" y="252.9" width="0.7" height="0.7" fill="#d42a2a" opacity="0.39"/>
<rect x="294.4" y="248.7" width="0.7" height="0.7" fill="#d42a2a" opacity="0.57"/>
<rect x="296.2" y="255.4" width="0.7" height="0.7" fill="#d42a2a" opacity="0.55"/>
<rect x="288.3" y="247.5" width="0.7" height="0.7" fill="#d42a2a" opacity="0.49"/>
<rect x="292.8" y="247.2" width="0.7" height="0.7" fill="#d42a2a" opacity="0.61"/>
<rect x="306.2" y="253.6" width="0.7" height="0.7" fill="#d42a2a" opacity="0.53"/>
<rect x="289.7" y="252.8" width="0.7" height="0.7" fill="#d42a2a" opacity="0.49"/>
<rect x="291.1" y="254.7" width="0.7" height="0.7" fill="#d42a2a" opacity="0.37"/>
<rect x="293.9" y="251.6" width="0.7" height="0.7" fill="#d42a2a" opacity="0.45"/>
<rect x="289.1" y="244.4" width="0.7" height="0.7" fill="#d42a2a" opacity="0.82"/>
<rect x="309.7" y="251.1" width="0.7" height="0.7" fill="#d42a2a" opacity="0.32"/>
<rect x="288.8" y="256.6" width="0.7" height="0.7" fill="#d42a2a" opacity="0.56"/>
<rect x="291.3" y="256.9" width="0.7" height="0.7" fill="#d42a2a" opacity="0.75"/>
<rect x="312.4" y="252.6" width="0.7" height="0.7" fill="#d42a2a" opacity="0.36"/>
<rect x="292.0" y="242.5" width="0.7" height="0.7" fill="#d42a2a" opacity="0.82"/>
<rect x="285.8" y="254.8" width="0.7" height="0.7" fill="#d42a2a" opacity="0.72"/>
<rect x="286.2" y="255.8" width="0.7" height="0.7" fill="#d42a2a" opacity="0.43"/>
<rect x="303.3" y="252.9" width="0.7" height="0.7" fill="#d42a2a" opacity="0.37"/>
<rect x="291.8" y="244.0" width="0.7" height="0.7" fill="#d42a2a" opacity="0.36"/>
<rect x="289.7" y="243.1" width="0.7" height="0.7" fill="#d42a2a" opacity="0.51"/>
<rect x="291.6" y="246.6" width="0.7" height="0.7" fill="#d42a2a" opacity="0.47"/>
<rect x="284.9" y="257.1" width="0.7" height="0.7" fill="#d42a2a" opacity="0.65"/>
<rect x="298.6" y="252.5" width="0.7" height="0.7" fill="#d42a2a" opacity="0.44"/>
<rect x="305.0" y="253.0" width="0.7" height="0.7" fill="#d42a2a" opacity="0.31"/>
<rect x="287.6" y="251.9" width="0.7" height="0.7" fill="#d42a2a" opacity="0.67"/>
<rect x="291.6" y="251.2" width="0.7" height="0.7" fill="#d42a2a" opacity="0.49"/>
<rect x="290.8" y="255.1" width="0.7" height="0.7" fill="#d42a2a" opacity="0.41"/>
<rect x="284.9" y="251.5" width="0.7" height="0.7" fill="#d42a2a" opacity="0.83"/>
<rect x="292.6" y="256.1" width="0.7" height="0.7" fill="#d42a2a" opacity="0.43"/>
<rect x="292.1" y="244.5" width="0.7" height="0.7" fill="#d42a2a" opacity="0.82"/>
<rect x="286.2" y="253.1" width="0.7" height="0.7" fill="#d42a2a" opacity="0.67"/>
<rect x="289.4" y="253.5" width="0.7" height="0.7" fill="#d42a2a" opacity="0.42"/>
<rect x="289.3" y="251.3" width="0.7" height="0.7" fill="#d42a2a" opacity="0.33"/>
<rect x="288.9" y="256.6" width="0.7" height="0.7" fill="#d42a2a" opacity="0.79"/>
<rect x="300.5" y="252.4" width="0.7" height="0.7" fill="#d42a2a" opacity="0.40"/>
<rect x="306.1" y="251.2" width="0.7" height="0.7" fill="#d42a2a" opacity="0.67"/>
<rect x="284.7" y="252.8" width="0.7" height="0.7" fill="#d42a2a" opacity="0.48"/>
<rect x="293.6" y="247.0" width="0.7" height="0.7" fill="#d42a2a" opacity="0.49"/>
<rect x="288.8" y="257.2" width="0.7" height="0.7" fill="#d42a2a" opacity="0.41"/>
<rect x="290.0" y="253.2" width="0.7" height="0.7" fill="#d42a2a" opacity="0.33"/>
<rect x="296.0" y="252.8" width="0.7" height="0.7" fill="#d42a2a" opacity="0.81"/>
<rect x="289.2" y="251.8" width="0.7" height="0.7" fill="#d42a2a" opacity="0.32"/>
<rect x="288.8" y="250.3" width="0.7" height="0.7" fill="#d42a2a" opacity="0.32"/>
<rect x="288.8" y="249.0" width="0.7" height="0.7" fill="#d42a2a" opacity="0.71"/>
<rect x="294.8" y="252.7" width="0.7" height="0.7" fill="#d42a2a" opacity="0.83"/>
<rect x="286.9" y="251.9" width="0.7" height="0.7" fill="#d42a2a" opacity="0.69"/>
<rect x="284.7" y="255.6" width="0.7" height="0.7" fill="#d42a2a" opacity="0.80"/>
<rect x="284.9" y="257.0" width="0.7" height="0.7" fill="#d42a2a" opacity="0.31"/>
<rect x="287.0" y="248.2" width="0.7" height="0.7" fill="#d42a2a" opacity="0.82"/>
<rect x="284.7" y="253.7" width="0.7" height="0.7" fill="#d42a2a" opacity="0.81"/>
<rect x="294.1" y="248.6" width="0.7" height="0.7" fill="#d42a2a" opacity="0.75"/>
<rect x="295.1" y="254.5" width="0.7" height="0.7" fill="#d42a2a" opacity="0.48"/>
<rect x="292.2" y="250.6" width="0.7" height="0.7" fill="#d42a2a" opacity="0.41"/>
<rect x="293.6" y="251.8" width="0.7" height="0.7" fill="#d42a2a" opacity="0.34"/>
<rect x="290.3" y="246.1" width="0.7" height="0.7" fill="#d42a2a" opacity="0.84"/>
<rect x="312.9" y="252.7" width="0.7" height="0.7" fill="#d42a2a" opacity="0.35"/>
<rect x="288.9" y="247.0" width="0.7" height="0.7" fill="#d42a2a" opacity="0.55"/>
<rect x="289.6" y="249.1" width="0.7" height="0.7" fill="#d42a2a" opacity="0.67"/>
<rect x="290.2" y="250.9" width="0.7" height="0.7" fill="#d42a2a" opacity="0.76"/>
<rect x="289.6" y="244.4" width="0.7" height="0.7" fill="#d42a2a" opacity="0.71"/>
<rect x="291.2" y="247.0" width="0.7" height="0.7" fill="#d42a2a" opacity="0.38"/>
<rect x="301.4" y="253.1" width="0.7" height="0.7" fill="#d42a2a" opacity="0.52"/>
<rect x="299.5" y="252.5" width="0.7" height="0.7" fill="#d42a2a" opacity="0.74"/>
<rect x="289.6" y="257.3" width="0.7" height="0.7" fill="#d42a2a" opacity="0.36"/>
<rect x="289.9" y="256.8" width="0.7" height="0.7" fill="#d42a2a" opacity="0.32"/>
<rect x="288.5" y="248.4" width="0.7" height="0.7" fill="#d42a2a" opacity="0.84"/>
<rect x="287.4" y="256.9" width="0.7" height="0.7" fill="#d42a2a" opacity="0.50"/>
<rect x="297.8" y="252.7" width="0.7" height="0.7" fill="#d42a2a" opacity="0.73"/>
<rect x="288.3" y="254.8" width="0.7" height="0.7" fill="#d42a2a" opacity="0.64"/>
<rect x="291.3" y="248.2" width="0.7" height="0.7" fill="#d42a2a" opacity="0.41"/>
<rect x="289.6" y="244.5" width="0.7" height="0.7" fill="#d42a2a" opacity="0.41"/>
<rect x="284.3" y="232.1" width="29.9" height="25.8" fill="none" stroke="#777" stroke-width="0.55"/>
<path d="M294.8 232.1 V257.9 M284.3 251.0 H314.2" stroke="#888" stroke-width="0.6"/>
<ellipse cx="292.9" cy="247.7" rx="2.3" ry="6.0" transform="rotate(28 292.9 247.7)" fill="none" stroke="#333" stroke-width="0.7"/>
<text x="304.9" y="246.7" font-size="4.8" text-anchor="middle" class="n" fill="#333">1.4%</text>
<g class="n" font-size="1.9" fill="#777"><text x="285.5" y="234.9">Q1-1</text><text x="309.7" y="234.9">Q1-2</text><text x="309.7" y="256.7">Q1-3</text><text x="285.5" y="256.7">Q1-4</text></g>
<g class="n" font-size="2.4" fill="#444">
<text x="279.3" y="235.1">10<tspan font-size="1.5" dy="-0.8">5</tspan></text>
<text x="279.3" y="241.8">10<tspan font-size="1.5" dy="-0.8">4</tspan></text>
<text x="279.3" y="248.4">10<tspan font-size="1.5" dy="-0.8">3</tspan></text>
<text x="279.3" y="254.6">10<tspan font-size="1.5" dy="-0.8">2</tspan></text>
<text x="286.7" y="261.4">10<tspan font-size="1.5" dy="-0.8">2</tspan></text>
<text x="294.0" y="261.4">10<tspan font-size="1.5" dy="-0.8">3</tspan></text>
<text x="301.2" y="261.4">10<tspan font-size="1.5" dy="-0.8">4</tspan></text>
<text x="307.9" y="261.4">10<tspan font-size="1.5" dy="-0.8">5</tspan></text>
</g>
<text x="0" y="0" font-size="3.5" text-anchor="middle" transform="translate(277.3 244.7) rotate(-90)" style="stroke-width:0.1px" fill="#222" textLength="19.5" lengthAdjust="spacingAndGlyphs">CD138 APC-A</text>
<text x="286" y="267.3" font-size="3.7" style="stroke-width:0.12px" fill="#222" textLength="26" lengthAdjust="spacingAndGlyphs">CD45R B220 FITC-A</text></g>
<g><rect x="285.8" y="295.7" width="14.0" height="4.9" fill="#e66" opacity="0.18" filter="url(#bl05)"/>
<rect x="284.6" y="293.4" width="8.8" height="7.9" fill="#d41e1e" opacity="0.95" filter="url(#bl05)"/>
<ellipse cx="291.9" cy="291.0" rx="2.0" ry="5.2" transform="rotate(28 291.9 291.0)" fill="#dd3030" opacity="0.32" filter="url(#bl05)"/>
<rect x="290.6" y="294.7" width="0.7" height="0.7" fill="#d42a2a" opacity="0.40"/>
<rect x="287.9" y="297.8" width="0.7" height="0.7" fill="#d42a2a" opacity="0.33"/>
<rect x="295.4" y="287.7" width="0.7" height="0.7" fill="#d42a2a" opacity="0.65"/>
<rect x="293.5" y="293.1" width="0.7" height="0.7" fill="#d42a2a" opacity="0.53"/>
<rect x="294.6" y="288.1" width="0.7" height="0.7" fill="#d42a2a" opacity="0.47"/>
<rect x="300.5" y="296.3" width="0.7" height="0.7" fill="#d42a2a" opacity="0.53"/>
<rect x="313.1" y="297.0" width="0.7" height="0.7" fill="#d42a2a" opacity="0.41"/>
<rect x="284.7" y="300.4" width="0.7" height="0.7" fill="#d42a2a" opacity="0.53"/>
<rect x="296.6" y="300.4" width="0.7" height="0.7" fill="#d42a2a" opacity="0.55"/>
<rect x="292.2" y="294.5" width="0.7" height="0.7" fill="#d42a2a" opacity="0.65"/>
<rect x="287.8" y="298.7" width="0.7" height="0.7" fill="#d42a2a" opacity="0.50"/>
<rect x="285.1" y="294.8" width="0.7" height="0.7" fill="#d42a2a" opacity="0.46"/>
<rect x="287.3" y="297.3" width="0.7" height="0.7" fill="#d42a2a" opacity="0.74"/>
<rect x="290.8" y="295.5" width="0.7" height="0.7" fill="#d42a2a" opacity="0.82"/>
<rect x="298.8" y="295.0" width="0.7" height="0.7" fill="#d42a2a" opacity="0.81"/>
<rect x="285.8" y="300.4" width="0.7" height="0.7" fill="#d42a2a" opacity="0.64"/>
<rect x="289.8" y="299.7" width="0.7" height="0.7" fill="#d42a2a" opacity="0.42"/>
<rect x="291.8" y="295.1" width="0.7" height="0.7" fill="#d42a2a" opacity="0.42"/>
<rect x="295.1" y="297.5" width="0.7" height="0.7" fill="#d42a2a" opacity="0.51"/>
<rect x="292.1" y="295.5" width="0.7" height="0.7" fill="#d42a2a" opacity="0.79"/>
<rect x="288.9" y="288.8" width="0.7" height="0.7" fill="#d42a2a" opacity="0.32"/>
<rect x="288.6" y="298.5" width="0.7" height="0.7" fill="#d42a2a" opacity="0.60"/>
<rect x="286.8" y="298.0" width="0.7" height="0.7" fill="#d42a2a" opacity="0.53"/>
<rect x="291.2" y="297.0" width="0.7" height="0.7" fill="#d42a2a" opacity="0.54"/>
<rect x="290.3" y="288.3" width="0.7" height="0.7" fill="#d42a2a" opacity="0.43"/>
<rect x="285.8" y="295.0" width="0.7" height="0.7" fill="#d42a2a" opacity="0.56"/>
<rect x="289.8" y="292.9" width="0.7" height="0.7" fill="#d42a2a" opacity="0.35"/>
<rect x="289.7" y="297.5" width="0.7" height="0.7" fill="#d42a2a" opacity="0.32"/>
<rect x="294.2" y="299.5" width="0.7" height="0.7" fill="#d42a2a" opacity="0.58"/>
<rect x="293.6" y="287.8" width="0.7" height="0.7" fill="#d42a2a" opacity="0.82"/>
<rect x="292.0" y="296.9" width="0.7" height="0.7" fill="#d42a2a" opacity="0.70"/>
<rect x="290.7" y="301.0" width="0.7" height="0.7" fill="#d42a2a" opacity="0.57"/>
<rect x="310.9" y="295.8" width="0.7" height="0.7" fill="#d42a2a" opacity="0.73"/>
<rect x="287.1" y="296.9" width="0.7" height="0.7" fill="#d42a2a" opacity="0.72"/>
<rect x="286.8" y="292.6" width="0.7" height="0.7" fill="#d42a2a" opacity="0.75"/>
<rect x="291.0" y="284.0" width="0.7" height="0.7" fill="#d42a2a" opacity="0.41"/>
<rect x="291.9" y="288.1" width="0.7" height="0.7" fill="#d42a2a" opacity="0.32"/>
<rect x="291.9" y="294.4" width="0.7" height="0.7" fill="#d42a2a" opacity="0.67"/>
<rect x="290.0" y="299.7" width="0.7" height="0.7" fill="#d42a2a" opacity="0.36"/>
<rect x="298.2" y="298.4" width="0.7" height="0.7" fill="#d42a2a" opacity="0.50"/>
<rect x="300.8" y="298.4" width="0.7" height="0.7" fill="#d42a2a" opacity="0.79"/>
<rect x="294.8" y="290.5" width="0.7" height="0.7" fill="#d42a2a" opacity="0.52"/>
<rect x="286.3" y="298.0" width="0.7" height="0.7" fill="#d42a2a" opacity="0.50"/>
<rect x="305.6" y="297.0" width="0.7" height="0.7" fill="#d42a2a" opacity="0.40"/>
<rect x="296.7" y="295.6" width="0.7" height="0.7" fill="#d42a2a" opacity="0.65"/>
<rect x="301.6" y="298.9" width="0.7" height="0.7" fill="#d42a2a" opacity="0.47"/>
<rect x="293.1" y="292.4" width="0.7" height="0.7" fill="#d42a2a" opacity="0.64"/>
<rect x="285.1" y="297.5" width="0.7" height="0.7" fill="#d42a2a" opacity="0.79"/>
<rect x="292.4" y="295.0" width="0.7" height="0.7" fill="#d42a2a" opacity="0.31"/>
<rect x="291.4" y="291.8" width="0.7" height="0.7" fill="#d42a2a" opacity="0.50"/>
<rect x="289.7" y="288.7" width="0.7" height="0.7" fill="#d42a2a" opacity="0.41"/>
<rect x="288.0" y="300.6" width="0.7" height="0.7" fill="#d42a2a" opacity="0.43"/>
<rect x="292.2" y="294.2" width="0.7" height="0.7" fill="#d42a2a" opacity="0.78"/>
<rect x="290.0" y="296.7" width="0.7" height="0.7" fill="#d42a2a" opacity="0.45"/>
<rect x="290.4" y="287.7" width="0.7" height="0.7" fill="#d42a2a" opacity="0.49"/>
<rect x="299.7" y="299.1" width="0.7" height="0.7" fill="#d42a2a" opacity="0.44"/>
<rect x="286.5" y="298.1" width="0.7" height="0.7" fill="#d42a2a" opacity="0.52"/>
<rect x="293.6" y="295.6" width="0.7" height="0.7" fill="#d42a2a" opacity="0.31"/>
<rect x="288.7" y="300.7" width="0.7" height="0.7" fill="#d42a2a" opacity="0.38"/>
<rect x="290.1" y="288.5" width="0.7" height="0.7" fill="#d42a2a" opacity="0.65"/>
<rect x="290.2" y="296.7" width="0.7" height="0.7" fill="#d42a2a" opacity="0.47"/>
<rect x="294.7" y="287.3" width="0.7" height="0.7" fill="#d42a2a" opacity="0.69"/>
<rect x="293.8" y="286.6" width="0.7" height="0.7" fill="#d42a2a" opacity="0.56"/>
<rect x="289.1" y="294.5" width="0.7" height="0.7" fill="#d42a2a" opacity="0.43"/>
<rect x="292.4" y="288.1" width="0.7" height="0.7" fill="#d42a2a" opacity="0.68"/>
<rect x="305.2" y="296.4" width="0.7" height="0.7" fill="#d42a2a" opacity="0.60"/>
<rect x="294.3" y="299.5" width="0.7" height="0.7" fill="#d42a2a" opacity="0.59"/>
<rect x="288.7" y="284.6" width="0.7" height="0.7" fill="#d42a2a" opacity="0.42"/>
<rect x="285.7" y="296.4" width="0.7" height="0.7" fill="#d42a2a" opacity="0.43"/>
<rect x="295.2" y="296.1" width="0.7" height="0.7" fill="#d42a2a" opacity="0.78"/>
<rect x="288.2" y="295.5" width="0.7" height="0.7" fill="#d42a2a" opacity="0.80"/>
<rect x="287.9" y="300.9" width="0.7" height="0.7" fill="#d42a2a" opacity="0.56"/>
<rect x="304.8" y="300.2" width="0.7" height="0.7" fill="#d42a2a" opacity="0.54"/>
<rect x="294.0" y="297.9" width="0.7" height="0.7" fill="#d42a2a" opacity="0.47"/>
<rect x="291.4" y="289.9" width="0.7" height="0.7" fill="#d42a2a" opacity="0.80"/>
<rect x="292.9" y="290.9" width="0.7" height="0.7" fill="#d42a2a" opacity="0.81"/>
<rect x="285.4" y="294.0" width="0.7" height="0.7" fill="#d42a2a" opacity="0.68"/>
<rect x="285.6" y="298.9" width="0.7" height="0.7" fill="#d42a2a" opacity="0.71"/>
<rect x="290.4" y="289.2" width="0.7" height="0.7" fill="#d42a2a" opacity="0.75"/>
<rect x="310.2" y="295.1" width="0.7" height="0.7" fill="#d42a2a" opacity="0.78"/>
<rect x="311.6" y="295.4" width="0.7" height="0.7" fill="#d42a2a" opacity="0.41"/>
<rect x="295.8" y="291.9" width="0.7" height="0.7" fill="#d42a2a" opacity="0.75"/>
<rect x="288.8" y="295.8" width="0.7" height="0.7" fill="#d42a2a" opacity="0.35"/>
<rect x="289.5" y="290.8" width="0.7" height="0.7" fill="#d42a2a" opacity="0.48"/>
<rect x="289.0" y="293.9" width="0.7" height="0.7" fill="#d42a2a" opacity="0.44"/>
<rect x="291.6" y="287.9" width="0.7" height="0.7" fill="#d42a2a" opacity="0.48"/>
<rect x="299.4" y="300.1" width="0.7" height="0.7" fill="#d42a2a" opacity="0.64"/>
<rect x="290.2" y="292.4" width="0.7" height="0.7" fill="#d42a2a" opacity="0.73"/>
<rect x="286.7" y="295.3" width="0.7" height="0.7" fill="#d42a2a" opacity="0.77"/>
<rect x="289.6" y="291.5" width="0.7" height="0.7" fill="#d42a2a" opacity="0.30"/>
<rect x="290.9" y="291.3" width="0.7" height="0.7" fill="#d42a2a" opacity="0.30"/>
<rect x="303.6" y="297.3" width="0.7" height="0.7" fill="#d42a2a" opacity="0.74"/>
<rect x="290.2" y="290.8" width="0.7" height="0.7" fill="#d42a2a" opacity="0.76"/>
<rect x="293.5" y="289.9" width="0.7" height="0.7" fill="#d42a2a" opacity="0.42"/>
<rect x="287.7" y="298.4" width="0.7" height="0.7" fill="#d42a2a" opacity="0.34"/>
<rect x="284.7" y="298.9" width="0.7" height="0.7" fill="#d42a2a" opacity="0.73"/>
<rect x="288.7" y="296.6" width="0.7" height="0.7" fill="#d42a2a" opacity="0.79"/>
<rect x="293.6" y="291.2" width="0.7" height="0.7" fill="#d42a2a" opacity="0.41"/>
<rect x="291.7" y="293.6" width="0.7" height="0.7" fill="#d42a2a" opacity="0.51"/>
<rect x="291.8" y="297.6" width="0.7" height="0.7" fill="#d42a2a" opacity="0.59"/>
<rect x="289.1" y="299.3" width="0.7" height="0.7" fill="#d42a2a" opacity="0.66"/>
<rect x="286.2" y="299.9" width="0.7" height="0.7" fill="#d42a2a" opacity="0.66"/>
<rect x="287.9" y="295.0" width="0.7" height="0.7" fill="#d42a2a" opacity="0.54"/>
<rect x="287.5" y="297.1" width="0.7" height="0.7" fill="#d42a2a" opacity="0.79"/>
<rect x="291.5" y="291.6" width="0.7" height="0.7" fill="#d42a2a" opacity="0.69"/>
<rect x="289.6" y="295.7" width="0.7" height="0.7" fill="#d42a2a" opacity="0.44"/>
<rect x="289.8" y="297.6" width="0.7" height="0.7" fill="#d42a2a" opacity="0.39"/>
<rect x="291.4" y="299.1" width="0.7" height="0.7" fill="#d42a2a" opacity="0.36"/>
<rect x="288.1" y="297.2" width="0.7" height="0.7" fill="#d42a2a" opacity="0.84"/>
<rect x="302.0" y="299.1" width="0.7" height="0.7" fill="#d42a2a" opacity="0.54"/>
<rect x="284.3" y="275.8" width="29.9" height="25.8" fill="none" stroke="#777" stroke-width="0.55"/>
<path d="M294.8 275.8 V301.6 M284.3 294.7 H314.2" stroke="#888" stroke-width="0.6"/>
<ellipse cx="292.9" cy="291.4" rx="2.3" ry="6.0" transform="rotate(28 292.9 291.4)" fill="none" stroke="#333" stroke-width="0.7"/>
<text x="304.9" y="290.4" font-size="4.8" text-anchor="middle" class="n" fill="#333">1.2%</text>
<g class="n" font-size="1.9" fill="#777"><text x="285.5" y="278.6">Q1-1</text><text x="309.7" y="278.6">Q1-2</text><text x="309.7" y="300.4">Q1-3</text><text x="285.5" y="300.4">Q1-4</text></g>
<g class="n" font-size="2.4" fill="#444">
<text x="279.3" y="278.8">10<tspan font-size="1.5" dy="-0.8">5</tspan></text>
<text x="279.3" y="285.5">10<tspan font-size="1.5" dy="-0.8">4</tspan></text>
<text x="279.3" y="292.1">10<tspan font-size="1.5" dy="-0.8">3</tspan></text>
<text x="279.3" y="298.3">10<tspan font-size="1.5" dy="-0.8">2</tspan></text>
<text x="286.7" y="305.1">10<tspan font-size="1.5" dy="-0.8">2</tspan></text>
<text x="294.0" y="305.1">10<tspan font-size="1.5" dy="-0.8">3</tspan></text>
<text x="301.2" y="305.1">10<tspan font-size="1.5" dy="-0.8">4</tspan></text>
<text x="307.9" y="305.1">10<tspan font-size="1.5" dy="-0.8">5</tspan></text>
</g>
<text x="0" y="0" font-size="3.5" text-anchor="middle" transform="translate(277.3 288.4) rotate(-90)" style="stroke-width:0.1px" fill="#222" textLength="19.5" lengthAdjust="spacingAndGlyphs">CD138 APC-A</text>
<text x="286" y="311.0" font-size="3.7" style="stroke-width:0.12px" fill="#222" textLength="26" lengthAdjust="spacingAndGlyphs">CD45R B220 FITC-A</text></g>
<g><rect x="285.8" y="338.1" width="14.0" height="4.9" fill="#e66" opacity="0.18" filter="url(#bl05)"/>
<rect x="284.6" y="335.8" width="8.8" height="7.9" fill="#d41e1e" opacity="0.95" filter="url(#bl05)"/>
<ellipse cx="291.9" cy="333.4" rx="2.0" ry="5.2" transform="rotate(28 291.9 333.4)" fill="#dd3030" opacity="0.32" filter="url(#bl05)"/>
<rect x="291.4" y="332.0" width="0.7" height="0.7" fill="#d42a2a" opacity="0.41"/>
<rect x="291.2" y="342.0" width="0.7" height="0.7" fill="#d42a2a" opacity="0.68"/>
<rect x="285.8" y="340.8" width="0.7" height="0.7" fill="#d42a2a" opacity="0.55"/>
<rect x="290.4" y="331.2" width="0.7" height="0.7" fill="#d42a2a" opacity="0.71"/>
<rect x="297.3" y="340.8" width="0.7" height="0.7" fill="#d42a2a" opacity="0.71"/>
<rect x="285.8" y="342.6" width="0.7" height="0.7" fill="#d42a2a" opacity="0.73"/>
<rect x="295.4" y="342.4" width="0.7" height="0.7" fill="#d42a2a" opacity="0.67"/>
<rect x="290.1" y="340.7" width="0.7" height="0.7" fill="#d42a2a" opacity="0.35"/>
<rect x="286.0" y="341.9" width="0.7" height="0.7" fill="#d42a2a" opacity="0.69"/>
<rect x="284.7" y="339.5" width="0.7" height="0.7" fill="#d42a2a" opacity="0.64"/>
<rect x="291.6" y="341.1" width="0.7" height="0.7" fill="#d42a2a" opacity="0.81"/>
<rect x="290.0" y="328.8" width="0.7" height="0.7" fill="#d42a2a" opacity="0.51"/>
<rect x="286.2" y="340.1" width="0.7" height="0.7" fill="#d42a2a" opacity="0.39"/>
<rect x="284.7" y="343.1" width="0.7" height="0.7" fill="#d42a2a" opacity="0.59"/>
<rect x="289.8" y="331.4" width="0.7" height="0.7" fill="#d42a2a" opacity="0.69"/>
<rect x="292.7" y="340.0" width="0.7" height="0.7" fill="#d42a2a" opacity="0.53"/>
<rect x="291.2" y="341.5" width="0.7" height="0.7" fill="#d42a2a" opacity="0.52"/>
<rect x="294.4" y="337.0" width="0.7" height="0.7" fill="#d42a2a" opacity="0.84"/>
<rect x="289.6" y="339.1" width="0.7" height="0.7" fill="#d42a2a" opacity="0.31"/>
<rect x="286.3" y="339.2" width="0.7" height="0.7" fill="#d42a2a" opacity="0.68"/>
<rect x="284.8" y="341.6" width="0.7" height="0.7" fill="#d42a2a" opacity="0.82"/>
<rect x="289.3" y="337.7" width="0.7" height="0.7" fill="#d42a2a" opacity="0.74"/>
<rect x="285.2" y="341.8" width="0.7" height="0.7" fill="#d42a2a" opacity="0.75"/>
<rect x="287.9" y="339.6" width="0.7" height="0.7" fill="#d42a2a" opacity="0.61"/>
<rect x="293.8" y="332.5" width="0.7" height="0.7" fill="#d42a2a" opacity="0.65"/>
<rect x="308.1" y="340.1" width="0.7" height="0.7" fill="#d42a2a" opacity="0.46"/>
<rect x="293.7" y="338.7" width="0.7" height="0.7" fill="#d42a2a" opacity="0.77"/>
<rect x="294.7" y="331.5" width="0.7" height="0.7" fill="#d42a2a" opacity="0.53"/>
<rect x="293.1" y="337.9" width="0.7" height="0.7" fill="#d42a2a" opacity="0.45"/>
<rect x="292.1" y="332.0" width="0.7" height="0.7" fill="#d42a2a" opacity="0.54"/>
<rect x="291.9" y="341.0" width="0.7" height="0.7" fill="#d42a2a" opacity="0.50"/>
<rect x="309.1" y="337.5" width="0.7" height="0.7" fill="#d42a2a" opacity="0.76"/>
<rect x="307.2" y="338.0" width="0.7" height="0.7" fill="#d42a2a" opacity="0.76"/>
<rect x="285.4" y="343.1" width="0.7" height="0.7" fill="#d42a2a" opacity="0.66"/>
<rect x="292.0" y="334.4" width="0.7" height="0.7" fill="#d42a2a" opacity="0.43"/>
<rect x="286.6" y="338.7" width="0.7" height="0.7" fill="#d42a2a" opacity="0.38"/>
<rect x="307.4" y="338.2" width="0.7" height="0.7" fill="#d42a2a" opacity="0.79"/>
<rect x="286.3" y="342.7" width="0.7" height="0.7" fill="#d42a2a" opacity="0.73"/>
<rect x="290.8" y="341.5" width="0.7" height="0.7" fill="#d42a2a" opacity="0.59"/>
<rect x="294.5" y="339.3" width="0.7" height="0.7" fill="#d42a2a" opacity="0.79"/>
<rect x="284.8" y="337.1" width="0.7" height="0.7" fill="#d42a2a" opacity="0.57"/>
<rect x="293.5" y="331.5" width="0.7" height="0.7" fill="#d42a2a" opacity="0.57"/>
<rect x="285.1" y="340.1" width="0.7" height="0.7" fill="#d42a2a" opacity="0.77"/>
<rect x="293.2" y="330.3" width="0.7" height="0.7" fill="#d42a2a" opacity="0.61"/>
<rect x="288.0" y="339.2" width="0.7" height="0.7" fill="#d42a2a" opacity="0.83"/>
<rect x="290.4" y="330.3" width="0.7" height="0.7" fill="#d42a2a" opacity="0.32"/>
<rect x="291.9" y="341.2" width="0.7" height="0.7" fill="#d42a2a" opacity="0.81"/>
<rect x="292.6" y="339.7" width="0.7" height="0.7" fill="#d42a2a" opacity="0.79"/>
<rect x="291.7" y="332.3" width="0.7" height="0.7" fill="#d42a2a" opacity="0.49"/>
<rect x="295.5" y="340.1" width="0.7" height="0.7" fill="#d42a2a" opacity="0.59"/>
<rect x="293.9" y="337.7" width="0.7" height="0.7" fill="#d42a2a" opacity="0.54"/>
<rect x="296.7" y="338.3" width="0.7" height="0.7" fill="#d42a2a" opacity="0.76"/>
<rect x="288.7" y="339.8" width="0.7" height="0.7" fill="#d42a2a" opacity="0.45"/>
<rect x="294.4" y="342.0" width="0.7" height="0.7" fill="#d42a2a" opacity="0.48"/>
<rect x="285.9" y="338.3" width="0.7" height="0.7" fill="#d42a2a" opacity="0.62"/>
<rect x="284.7" y="341.4" width="0.7" height="0.7" fill="#d42a2a" opacity="0.79"/>
<rect x="286.3" y="336.5" width="0.7" height="0.7" fill="#d42a2a" opacity="0.47"/>
<rect x="293.7" y="339.4" width="0.7" height="0.7" fill="#d42a2a" opacity="0.63"/>
<rect x="288.0" y="340.6" width="0.7" height="0.7" fill="#d42a2a" opacity="0.64"/>
<rect x="299.2" y="341.3" width="0.7" height="0.7" fill="#d42a2a" opacity="0.63"/>
<rect x="286.7" y="339.5" width="0.7" height="0.7" fill="#d42a2a" opacity="0.72"/>
<rect x="294.9" y="333.4" width="0.7" height="0.7" fill="#d42a2a" opacity="0.73"/>
<rect x="303.6" y="339.5" width="0.7" height="0.7" fill="#d42a2a" opacity="0.75"/>
<rect x="286.0" y="340.3" width="0.7" height="0.7" fill="#d42a2a" opacity="0.44"/>
<rect x="289.7" y="339.3" width="0.7" height="0.7" fill="#d42a2a" opacity="0.65"/>
<rect x="286.8" y="340.7" width="0.7" height="0.7" fill="#d42a2a" opacity="0.32"/>
<rect x="292.8" y="334.6" width="0.7" height="0.7" fill="#d42a2a" opacity="0.81"/>
<rect x="292.8" y="336.2" width="0.7" height="0.7" fill="#d42a2a" opacity="0.51"/>
<rect x="302.5" y="339.6" width="0.7" height="0.7" fill="#d42a2a" opacity="0.53"/>
<rect x="289.9" y="331.8" width="0.7" height="0.7" fill="#d42a2a" opacity="0.38"/>
<rect x="290.9" y="337.7" width="0.7" height="0.7" fill="#d42a2a" opacity="0.37"/>
<rect x="287.8" y="342.7" width="0.7" height="0.7" fill="#d42a2a" opacity="0.37"/>
<rect x="292.1" y="332.7" width="0.7" height="0.7" fill="#d42a2a" opacity="0.70"/>
<rect x="290.5" y="338.0" width="0.7" height="0.7" fill="#d42a2a" opacity="0.69"/>
<rect x="305.7" y="337.6" width="0.7" height="0.7" fill="#d42a2a" opacity="0.65"/>
<rect x="288.0" y="339.5" width="0.7" height="0.7" fill="#d42a2a" opacity="0.81"/>
<rect x="295.1" y="332.0" width="0.7" height="0.7" fill="#d42a2a" opacity="0.31"/>
<rect x="289.8" y="328.6" width="0.7" height="0.7" fill="#d42a2a" opacity="0.34"/>
<rect x="284.8" y="342.5" width="0.7" height="0.7" fill="#d42a2a" opacity="0.57"/>
<rect x="290.8" y="330.5" width="0.7" height="0.7" fill="#d42a2a" opacity="0.54"/>
<rect x="291.1" y="337.2" width="0.7" height="0.7" fill="#d42a2a" opacity="0.74"/>
<rect x="290.4" y="339.2" width="0.7" height="0.7" fill="#d42a2a" opacity="0.51"/>
<rect x="292.1" y="343.1" width="0.7" height="0.7" fill="#d42a2a" opacity="0.73"/>
<rect x="285.0" y="343.3" width="0.7" height="0.7" fill="#d42a2a" opacity="0.69"/>
<rect x="294.6" y="341.0" width="0.7" height="0.7" fill="#d42a2a" opacity="0.84"/>
<rect x="302.1" y="339.1" width="0.7" height="0.7" fill="#d42a2a" opacity="0.54"/>
<rect x="295.8" y="341.5" width="0.7" height="0.7" fill="#d42a2a" opacity="0.63"/>
<rect x="307.8" y="338.9" width="0.7" height="0.7" fill="#d42a2a" opacity="0.30"/>
<rect x="292.7" y="329.6" width="0.7" height="0.7" fill="#d42a2a" opacity="0.75"/>
<rect x="286.5" y="342.4" width="0.7" height="0.7" fill="#d42a2a" opacity="0.75"/>
<rect x="301.3" y="338.9" width="0.7" height="0.7" fill="#d42a2a" opacity="0.77"/>
<rect x="304.4" y="342.9" width="0.7" height="0.7" fill="#d42a2a" opacity="0.49"/>
<rect x="293.2" y="328.0" width="0.7" height="0.7" fill="#d42a2a" opacity="0.41"/>
<rect x="288.4" y="343.0" width="0.7" height="0.7" fill="#d42a2a" opacity="0.43"/>
<rect x="287.7" y="337.6" width="0.7" height="0.7" fill="#d42a2a" opacity="0.44"/>
<rect x="291.3" y="342.0" width="0.7" height="0.7" fill="#d42a2a" opacity="0.55"/>
<rect x="293.2" y="328.3" width="0.7" height="0.7" fill="#d42a2a" opacity="0.43"/>
<rect x="295.9" y="340.0" width="0.7" height="0.7" fill="#d42a2a" opacity="0.56"/>
<rect x="293.1" y="337.5" width="0.7" height="0.7" fill="#d42a2a" opacity="0.41"/>
<rect x="291.4" y="330.4" width="0.7" height="0.7" fill="#d42a2a" opacity="0.61"/>
<rect x="288.3" y="336.4" width="0.7" height="0.7" fill="#d42a2a" opacity="0.85"/>
<rect x="284.7" y="336.9" width="0.7" height="0.7" fill="#d42a2a" opacity="0.65"/>
<rect x="289.5" y="338.7" width="0.7" height="0.7" fill="#d42a2a" opacity="0.59"/>
<rect x="294.2" y="342.0" width="0.7" height="0.7" fill="#d42a2a" opacity="0.78"/>
<rect x="288.8" y="340.3" width="0.7" height="0.7" fill="#d42a2a" opacity="0.44"/>
<rect x="299.4" y="341.8" width="0.7" height="0.7" fill="#d42a2a" opacity="0.75"/>
<rect x="292.4" y="337.3" width="0.7" height="0.7" fill="#d42a2a" opacity="0.41"/>
<rect x="294.2" y="333.9" width="0.7" height="0.7" fill="#d42a2a" opacity="0.61"/>
<rect x="298.1" y="343.2" width="0.7" height="0.7" fill="#d42a2a" opacity="0.80"/>
<rect x="292.3" y="330.6" width="0.7" height="0.7" fill="#d42a2a" opacity="0.37"/>
<rect x="284.3" y="318.2" width="29.9" height="25.8" fill="none" stroke="#777" stroke-width="0.55"/>
<path d="M294.8 318.2 V344.0 M284.3 337.1 H314.2" stroke="#888" stroke-width="0.6"/>
<ellipse cx="292.9" cy="333.8" rx="2.3" ry="6.0" transform="rotate(28 292.9 333.8)" fill="none" stroke="#333" stroke-width="0.7"/>
<text x="304.9" y="332.8" font-size="4.8" text-anchor="middle" class="n" fill="#333">0.4%</text>
<g class="n" font-size="1.9" fill="#777"><text x="285.5" y="321.0">Q1-1</text><text x="309.7" y="321.0">Q1-2</text><text x="309.7" y="342.8">Q1-3</text><text x="285.5" y="342.8">Q1-4</text></g>
<g class="n" font-size="2.4" fill="#444">
<text x="279.3" y="321.2">10<tspan font-size="1.5" dy="-0.8">5</tspan></text>
<text x="279.3" y="327.9">10<tspan font-size="1.5" dy="-0.8">4</tspan></text>
<text x="279.3" y="334.5">10<tspan font-size="1.5" dy="-0.8">3</tspan></text>
<text x="279.3" y="340.7">10<tspan font-size="1.5" dy="-0.8">2</tspan></text>
<text x="286.7" y="347.5">10<tspan font-size="1.5" dy="-0.8">2</tspan></text>
<text x="294.0" y="347.5">10<tspan font-size="1.5" dy="-0.8">3</tspan></text>
<text x="301.2" y="347.5">10<tspan font-size="1.5" dy="-0.8">4</tspan></text>
<text x="307.9" y="347.5">10<tspan font-size="1.5" dy="-0.8">5</tspan></text>
</g>
<text x="0" y="0" font-size="3.5" text-anchor="middle" transform="translate(277.3 330.8) rotate(-90)" style="stroke-width:0.1px" fill="#222" textLength="19.5" lengthAdjust="spacingAndGlyphs">CD138 APC-A</text>
<text x="286" y="353.4" font-size="3.7" style="stroke-width:0.12px" fill="#222" textLength="26" lengthAdjust="spacingAndGlyphs">CD45R B220 FITC-A</text></g>
<g filter="url(#blh)"><rect x="321.9" y="186.9" width="40.8" height="35.8" fill="#8c2c64"/>
<rect x="321.9" y="186.9" width="40.8" height="35.8" fill="#7a5c98" filter="url(#he1p)"/>
<rect x="321.9" y="186.9" width="40.8" height="35.8" fill="#d4ccda" filter="url(#he1l)"/></g>
<g filter="url(#blh)"><rect x="321.5" y="229.9" width="41.4" height="35.4" fill="#9a3872"/>
<rect x="321.5" y="229.9" width="41.4" height="35.4" fill="#9484b8" filter="url(#he2p)"/>
<rect x="321.5" y="229.9" width="41.4" height="35.4" fill="#d6d4de" filter="url(#he2l)"/></g>
<g filter="url(#blh)"><rect x="321.6" y="273.3" width="41.4" height="35.0" fill="#983670"/>
<rect x="321.6" y="273.3" width="41.4" height="35.0" fill="#9080b4" filter="url(#he3p)"/>
<rect x="321.6" y="273.3" width="41.4" height="35.0" fill="#d6d4de" filter="url(#he3l)"/></g>
<g filter="url(#blh)"><rect x="321.9" y="317.1" width="41.1" height="35.1" fill="#cbc3d5"/>
<rect x="321.9" y="317.1" width="41.1" height="35.1" fill="#9a90c0" filter="url(#he4p)"/>
<rect x="321.9" y="317.1" width="41.1" height="35.1" fill="#8e2a62" filter="url(#he4l)"/></g>
<g stroke="#8c8c8c" stroke-width="1.1" fill="none">
<rect x="220.9" y="182.9" width="147.6" height="173.5"/>
<path d="M220.9 226.5 H368.5"/>
<path d="M220.9 270.2 H368.5"/>
<path d="M220.9 312.6 H368.5"/>
<path d="M270.9 182.9 V356.4 M316.6 182.9 V356.4"/>
</g>
<path d="M274.3 359.6 H363.5" stroke="#444" stroke-width="0.8"/>
<text x="299.41" y="368.00" font-size="6.6" textLength="38.51" lengthAdjust="spacingAndGlyphs" id="c38" >Bone Marrow</text>
</g>
<rect x="0.5" y="0.5" width="519" height="376" fill="none" stroke="#000" stroke-width="1"/>
</svg>
</body></html>
